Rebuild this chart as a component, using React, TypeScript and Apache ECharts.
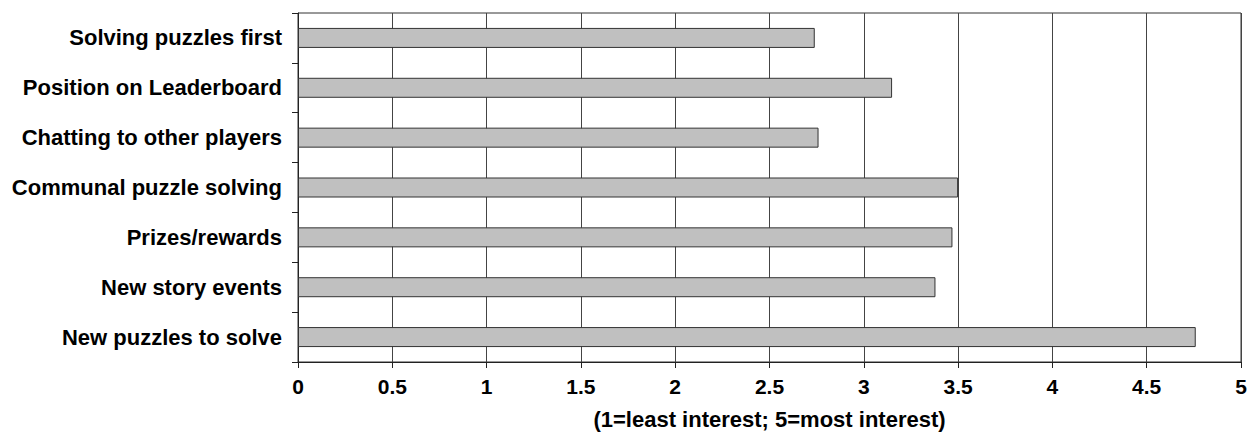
import React, { useEffect, useRef } from "react";
import * as echarts from "echarts";

const categories = [
  "Solving puzzles first",
  "Position on Leaderboard",
  "Chatting to other players",
  "Communal puzzle solving",
  "Prizes/rewards",
  "New story events",
  "New puzzles to solve",
];
const values = [2.74, 3.15, 2.76, 3.5, 3.47, 3.38, 4.76];
const axisTitle = "(1=least interest; 5=most interest)";

const FONT = "'Liberation Sans', Arial, sans-serif";

export default function App() {
  const ref = useRef<HTMLDivElement>(null);
  useEffect(() => {
    if (!ref.current) return;
    const chart = echarts.init(ref.current, undefined, { renderer: "svg" });
    chart.setOption({
      animation: false,
      backgroundColor: "#ffffff",
      grid: {
        left: 298,
        right: 18,
        top: 13,
        bottom: 79,
        show: true,
        borderColor: "#333",
        borderWidth: 1,
        backgroundColor: "transparent",
      },
      xAxis: {
        type: "value",
        min: 0,
        max: 5,
        interval: 0.5,
        name: axisTitle,
        nameLocation: "middle",
        nameGap: 46,
        nameTextStyle: { fontFamily: FONT, fontWeight: "bold", fontSize: 22, color: "#000" },
        axisLine: { show: true, lineStyle: { color: "#222", width: 1 } },
        axisTick: { show: true, length: 6, lineStyle: { color: "#222" } },
        axisLabel: {
          fontFamily: FONT,
          fontWeight: "bold",
          fontSize: 21,
          color: "#000",
          margin: 14,
        },
        splitLine: { show: true, lineStyle: { color: "#444", width: 1 } },
      },
      yAxis: {
        type: "category",
        data: categories,
        inverse: true,
        axisLine: { show: true, lineStyle: { color: "#222", width: 1 } },
        axisTick: { show: true, length: 6, lineStyle: { color: "#222" } },
        axisLabel: {
          fontFamily: FONT,
          fontWeight: "bold",
          fontSize: 22,
          color: "#000",
          margin: 16,
        },
        splitLine: { show: false },
      },
      series: [
        {
          type: "bar",
          data: values,
          barWidth: 20,
          itemStyle: { color: "#c0c0c0", borderColor: "#333", borderWidth: 1 },
        },
      ],
    });
    return () => chart.dispose();
  }, []);
  return (
    <div
      ref={ref}
      style={{ position: "fixed", left: 0, top: 0, width: 1259, height: 441 }}
    />
  );
}
